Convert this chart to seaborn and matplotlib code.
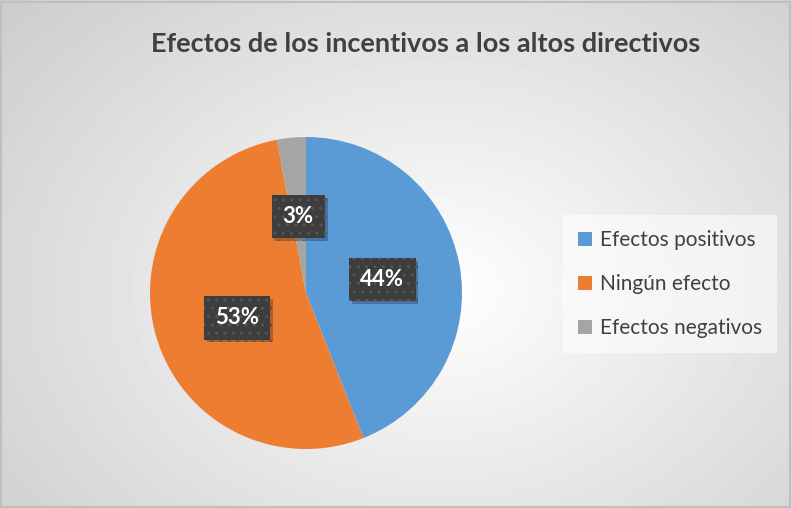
import numpy as np
import seaborn as sns
import matplotlib.pyplot as plt
import matplotlib.patheffects as pe
from matplotlib.patches import Patch

# Data
categorias = ['Efectos positivos', 'Ningún efecto', 'Efectos negativos']
porcentajes = [44, 53, 3]
etiquetas = ['44%', '53%', '3%']
colores = ['#5B9BD5', '#ED7D31', '#A5A5A5']

sns.set_theme(style='white')
plt.rcParams['font.family'] = ['Lato', 'DejaVu Sans']

fig = plt.figure(figsize=(7.92, 5.08), dpi=100)

# radial gradient background
bg = fig.add_axes([0, 0, 1, 1], zorder=0)
yy, xx = np.mgrid[0:508, 0:792]
d = np.sqrt(((xx - 440) / 560) ** 2 + ((yy - 290) / 420) ** 2)
shade = 1 - 0.23 * np.clip(d, 0, 1.2) / 1.2
bg.imshow(shade, cmap='gray', vmin=0, vmax=1, aspect='auto', extent=[0, 1, 0, 1])
bg.set_xlim(0, 1)
bg.set_ylim(0, 1)
bg.axis('off')
bg.add_patch(plt.Rectangle((0.001, 0.001), 0.997, 0.996, fill=False,
                           ec='#bfbfbf', lw=1.5, transform=bg.transAxes))

# pie
ax = fig.add_axes([(306 - 156) / 792, 1 - (293 + 156) / 508, 312 / 792, 312 / 508], zorder=1)
wedges, _ = ax.pie(porcentajes, colors=colores, startangle=90, counterclock=False,
                   radius=1, wedgeprops=dict(linewidth=0))
ax.set_xlim(-1, 1)
ax.set_ylim(-1, 1)
ax.set_aspect('equal')
ax.axis('off')

# data labels with dark dotted boxes
pos = [(0.49, 0.085), (-0.44, -0.16), (-0.05, 0.49)]
for (x, y), txt in zip(pos, etiquetas):
    t = ax.text(x, y, txt, ha='center', va='center', color='white',
                fontsize=16, fontweight='bold', zorder=5,
                bbox=dict(boxstyle='square,pad=0.5', fc='#3d3d3d', ec='#555555',
                          lw=0, hatch='..'))
    t.get_bbox_patch().set_path_effects([
        pe.SimplePatchShadow(offset=(2, -2), shadow_rgbFace='black', alpha=0.25),
        pe.Normal()])

# title
fig.text(0.537, 1 - 44 / 508, 'Efectos de los incentivos a los altos directivos',
         ha='center', va='center', fontsize=19.5, fontweight='bold', color='#404040')

# legend
handles = [Patch(facecolor=c, edgecolor='none') for c in colores]
leg = fig.legend(handles, categorias, loc='center', bbox_to_anchor=(670 / 792, 1 - 284 / 508),
                 frameon=True, fontsize=15, labelcolor='#404040', handlelength=0.65,
                 handleheight=0.65, handletextpad=0.4, labelspacing=1.15,
                 borderpad=0.7, fancybox=False)
leg.get_frame().set_facecolor('white')
leg.get_frame().set_alpha(0.55)
leg.get_frame().set_edgecolor('none')

fig.savefig('out.png', dpi=100)
